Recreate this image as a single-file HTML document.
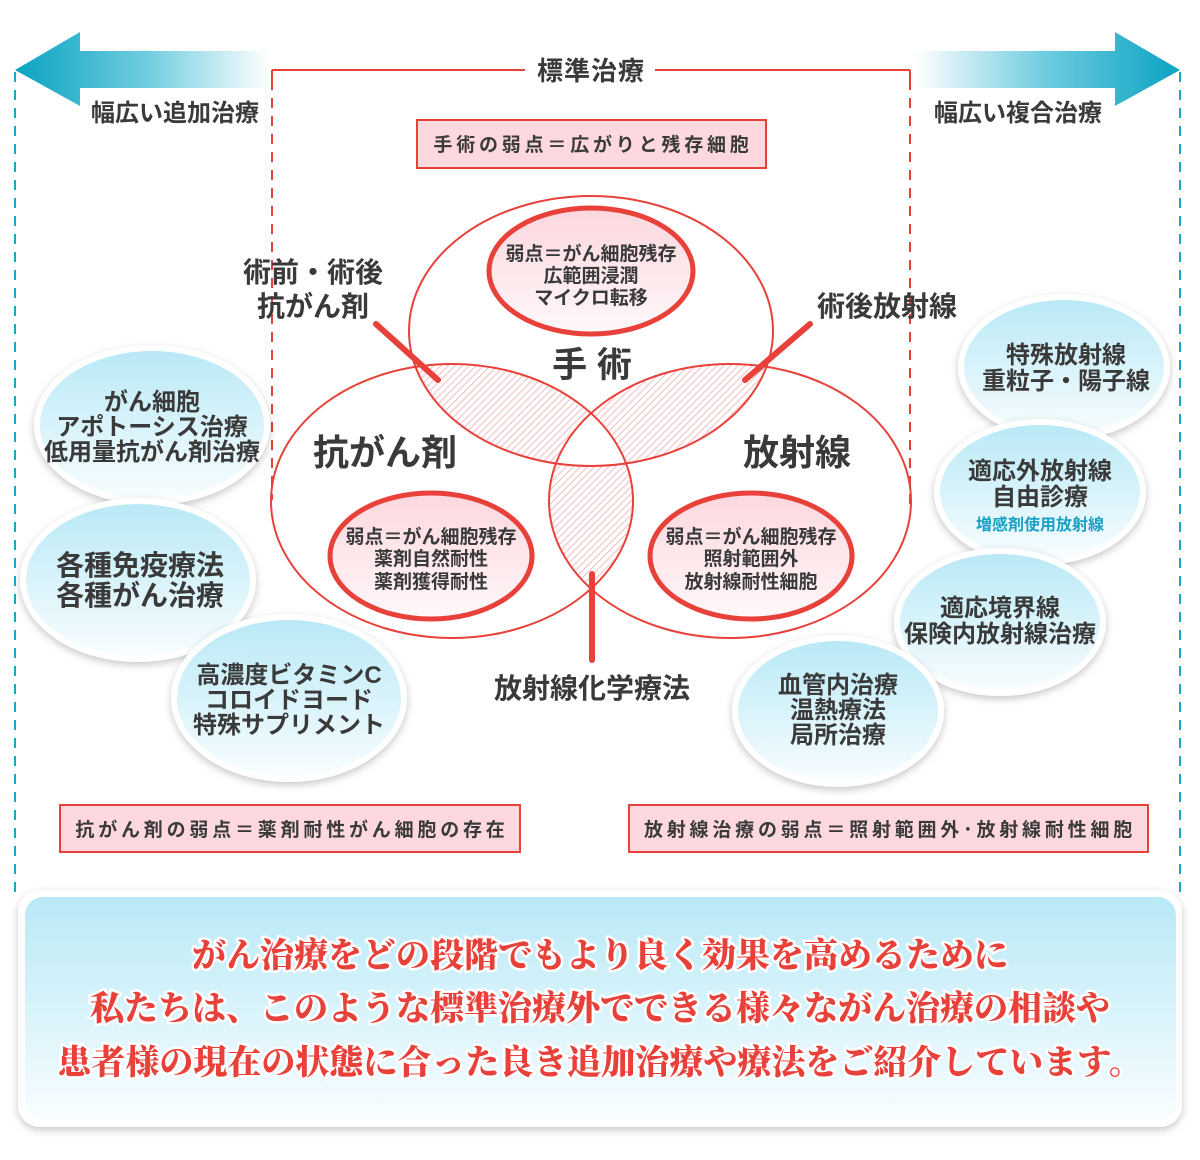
<!DOCTYPE html>
<html><head><meta charset="utf-8">
<style>
html,body{margin:0;padding:0;background:#fff;}
svg{display:block;}
text{font-family:"Liberation Sans","Noto Sans CJK JP",sans-serif;fill:#3a3a3a;font-weight:bold;text-anchor:middle;}
.s{font-family:"Liberation Serif","Noto Serif CJK SC",serif;font-weight:900;fill:#e8413a;stroke:#fff;stroke-width:5;paint-order:stroke;font-size:34px;}
.ls{letter-spacing:3.8px;}
</style></head><body>
<svg width="1200" height="1160" viewBox="0 0 1200 1160" xmlns="http://www.w3.org/2000/svg">
<defs>
<linearGradient id="al" x1="0" x2="1" y1="0" y2="0"><stop offset="0" stop-color="#0aa3c2"/><stop offset="0.5" stop-color="#6ccbdf"/><stop offset="1" stop-color="#ffffff"/></linearGradient>
<linearGradient id="ar" x1="1" x2="0" y1="0" y2="0"><stop offset="0" stop-color="#0aa3c2"/><stop offset="0.5" stop-color="#6ccbdf"/><stop offset="1" stop-color="#ffffff"/></linearGradient>
<linearGradient id="bl" x1="0" x2="0" y1="0" y2="1"><stop offset="0" stop-color="#b9e9f6"/><stop offset="1" stop-color="#f8fdff"/></linearGradient>
<linearGradient id="pk" x1="0" x2="0" y1="0" y2="1"><stop offset="0" stop-color="#fcd7de"/><stop offset="1" stop-color="#fff8f9"/></linearGradient>
<pattern id="hatch" width="5" height="5" patternUnits="userSpaceOnUse" patternTransform="rotate(45)"><rect width="5" height="5" fill="#fff"/><line x1="0" y1="0" x2="0" y2="5" stroke="#f2a0a6" stroke-width="1.4"/></pattern>
<clipPath id="cA"><ellipse cx="591" cy="331" rx="182" ry="135"/></clipPath>
<clipPath id="cB"><ellipse cx="452" cy="501" rx="181" ry="137"/></clipPath>
<clipPath id="cC"><ellipse cx="730" cy="501" rx="181" ry="137"/></clipPath>
<filter id="sh" x="-20%" y="-20%" width="140%" height="150%"><feDropShadow dx="0" dy="3" stdDeviation="4" flood-color="#000" flood-opacity="0.22"/></filter>
</defs>

<polygon points="15,70 80,32 80,51 270,51 270,88 80,88 80,106" fill="url(#al)"/>
<polygon points="1180,70 1115,32 1115,51 915,51 915,88 1115,88 1115,106" fill="url(#ar)"/>
<line x1="15" y1="72" x2="15" y2="892" stroke="#1aa6c6" stroke-width="2" stroke-dasharray="10,8"/>
<line x1="1180" y1="72" x2="1180" y2="892" stroke="#1aa6c6" stroke-width="2" stroke-dasharray="10,8"/>
<text x="175" y="121" font-size="24">幅広い追加治療</text>
<text x="1018" y="121" font-size="24">幅広い複合治療</text>

<line x1="272" y1="70" x2="525" y2="70" stroke="#e8413a" stroke-width="2"/>
<line x1="272" y1="70" x2="272" y2="80" stroke="#e8413a" stroke-width="2"/>
<line x1="272" y1="80" x2="272" y2="500" stroke="#e8413a" stroke-width="2" stroke-dasharray="10,8"/>
<line x1="655" y1="70" x2="910" y2="70" stroke="#e8413a" stroke-width="2"/>
<line x1="910" y1="70" x2="910" y2="80" stroke="#e8413a" stroke-width="2"/>
<line x1="910" y1="80" x2="910" y2="510" stroke="#e8413a" stroke-width="2" stroke-dasharray="10,8"/>
<text x="591" y="80" font-size="26" style="letter-spacing:1px">標準治療</text>

<rect x="417" y="120" width="349" height="48" fill="#fdd9df" stroke="#e8413a" stroke-width="2"/>
<text class="ls" x="593" y="151" font-size="19">手術の弱点＝広がりと残存細胞</text>

<g clip-path="url(#cA)"><rect x="0" y="0" width="1200" height="1160" fill="url(#hatch)" clip-path="url(#cB)"/></g>
<g clip-path="url(#cA)"><rect x="0" y="0" width="1200" height="1160" fill="url(#hatch)" clip-path="url(#cC)"/></g>
<g clip-path="url(#cB)"><rect x="0" y="0" width="1200" height="1160" fill="url(#hatch)" clip-path="url(#cC)"/></g>
<g clip-path="url(#cA)"><g clip-path="url(#cB)"><rect x="0" y="0" width="1200" height="1160" fill="#fff" clip-path="url(#cC)"/></g></g>

<ellipse cx="591" cy="331" rx="182" ry="135" fill="none" stroke="#e8413a" stroke-width="2"/>
<ellipse cx="452" cy="501" rx="181" ry="137" fill="none" stroke="#e8413a" stroke-width="2"/>
<ellipse cx="730" cy="501" rx="181" ry="137" fill="none" stroke="#e8413a" stroke-width="2"/>

<ellipse cx="591" cy="271" rx="102" ry="63" fill="url(#pk)" stroke="#e8413a" stroke-width="5"/>
<ellipse cx="431" cy="556" rx="101" ry="63" fill="url(#pk)" stroke="#e8413a" stroke-width="5"/>
<ellipse cx="751" cy="556" rx="101" ry="63" fill="url(#pk)" stroke="#e8413a" stroke-width="5"/>
<g font-size="19">
<text x="591" y="260">弱点＝がん細胞残存</text><text x="591" y="282">広範囲浸潤</text><text x="591" y="304">マイクロ転移</text>
<text x="431" y="543">弱点＝がん細胞残存</text><text x="431" y="565">薬剤自然耐性</text><text x="431" y="588">薬剤獲得耐性</text>
<text x="751" y="543">弱点＝がん細胞残存</text><text x="751" y="565">照射範囲外</text><text x="751" y="588">放射線耐性細胞</text>
</g>

<g stroke="#e8413a" stroke-width="6" stroke-linecap="round">
<line x1="376" y1="324" x2="438" y2="380"/>
<line x1="810" y1="324" x2="745" y2="380"/>
<line x1="592" y1="574" x2="592" y2="660"/>
</g>
<text x="313" y="282" font-size="28">術前・術後</text>
<text x="313" y="316" font-size="28">抗がん剤</text>
<text x="887" y="316" font-size="28">術後放射線</text>
<text x="592" y="698" font-size="28">放射線化学療法</text>
<text x="592" y="377" font-size="35">手 術</text>
<text x="385" y="465" font-size="36">抗がん剤</text>
<text x="797" y="465" font-size="36">放射線</text>

<g filter="url(#sh)"><ellipse cx="152" cy="425" rx="118" ry="80" fill="#fff"/><ellipse cx="152" cy="425" rx="112" ry="74" fill="url(#bl)"/></g>
<g filter="url(#sh)"><ellipse cx="138" cy="580" rx="118" ry="82" fill="#fff"/><ellipse cx="138" cy="580" rx="112" ry="76" fill="url(#bl)"/></g>
<g filter="url(#sh)"><ellipse cx="289" cy="698" rx="118" ry="84" fill="#fff"/><ellipse cx="289" cy="698" rx="112" ry="78" fill="url(#bl)"/></g>
<g filter="url(#sh)"><ellipse cx="1064" cy="367" rx="106" ry="73" fill="#fff"/><ellipse cx="1064" cy="367" rx="100" ry="67" fill="url(#bl)"/></g>
<g filter="url(#sh)"><ellipse cx="1040" cy="492" rx="106" ry="73" fill="#fff"/><ellipse cx="1040" cy="492" rx="100" ry="67" fill="url(#bl)"/></g>
<g filter="url(#sh)"><ellipse cx="1000" cy="622" rx="106" ry="74" fill="#fff"/><ellipse cx="1000" cy="622" rx="100" ry="68" fill="url(#bl)"/></g>
<g filter="url(#sh)"><ellipse cx="838" cy="711" rx="106" ry="76" fill="#fff"/><ellipse cx="838" cy="711" rx="100" ry="70" fill="url(#bl)"/></g>
<g font-size="24">
<text x="152" y="410">がん細胞</text><text x="152" y="435">アポトーシス治療</text><text x="152" y="460">低用量抗がん剤治療</text>
<text x="140" y="575" font-size="28">各種免疫療法</text><text x="140" y="605" font-size="28">各種がん治療</text>
<text x="289" y="683">高濃度ビタミンC</text><text x="289" y="708">コロイドヨード</text><text x="289" y="733">特殊サプリメント</text>
<text x="1066" y="363">特殊放射線</text><text x="1066" y="389">重粒子・陽子線</text>
<text x="1040" y="479">適応外放射線</text><text x="1040" y="505">自由診療</text>
<text x="1040" y="530" font-size="16" style="fill:#1aa0c4">増感剤使用放射線</text>
<text x="1000" y="616">適応境界線</text><text x="1000" y="642">保険内放射線治療</text>
<text x="838" y="693">血管内治療</text><text x="838" y="718">温熱療法</text><text x="838" y="743">局所治療</text>
</g>

<rect x="60" y="805" width="460" height="47" fill="#fdd9df" stroke="#e8413a" stroke-width="2"/>
<text class="ls" x="292" y="836" font-size="19">抗がん剤の弱点＝薬剤耐性がん細胞の存在</text>
<rect x="629" y="805" width="519" height="47" fill="#fdd9df" stroke="#e8413a" stroke-width="2"/>
<text class="ls" x="890" y="836" font-size="19">放射線治療の弱点＝照射範囲外･放射線耐性細胞</text>

<rect x="18" y="890" width="1164" height="237" rx="22" fill="#fff" filter="url(#sh)"/>
<rect x="25" y="897" width="1151" height="223" rx="18" fill="url(#bl)"/>
<text class="s" x="600" y="967">がん治療をどの段階でもより良く効果を高めるために</text>
<text class="s" x="600" y="1020">私たちは、このような標準治療外でできる様々ながん治療の相談や</text>
<text class="s" x="600" y="1074">患者様の現在の状態に合った良き追加治療や療法をご紹介しています。</text>
</svg>
</body></html>
